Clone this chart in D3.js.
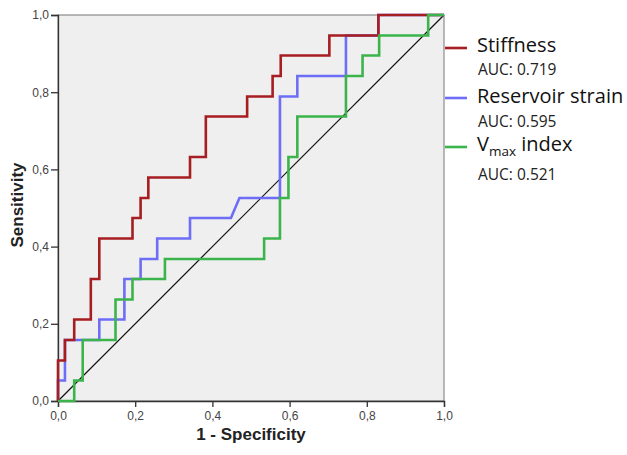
<!doctype html>
<html>
<head>
<meta charset="UTF-8">
<title>ROC curves</title>
<script src="https://cdn.jsdelivr.net/npm/d3@7"></script>
<style>
    body { margin: 0; background: #fff; }
    .tick text { font-family: "Liberation Sans", Arial, sans-serif; font-size: 12px; fill: #444; }
    .title { font-family: "Liberation Sans", Arial, sans-serif; font-size: 17px; font-weight: 700; fill: #222; }
    .leg-name { font-family: "Open Sans", Lato, sans-serif; font-size: 20px; fill: #111; }
    .leg-auc { font-family: "Open Sans", Lato, sans-serif; font-size: 15.5px; fill: #222; }
</style>
</head>
<body>
<script>
    // ROC vertices (tpr in steps of 1/19)
    var stiffFpr = [0, 0, 0.018, 0.018, 0.042, 0.042, 0.085, 0.085, 0.107, 0.107, 0.193, 0.193, 0.214, 0.214, 0.234, 0.234, 0.342, 0.342, 0.383, 0.383, 0.490, 0.490, 0.556, 0.556, 0.577, 0.577, 0.703, 0.703, 0.830, 0.830, 1];
    var stiffTpr = [0, 0.105, 0.105, 0.158, 0.158, 0.211, 0.211, 0.316, 0.316, 0.421, 0.421, 0.474, 0.474, 0.526, 0.526, 0.579, 0.579, 0.632, 0.632, 0.737, 0.737, 0.789, 0.789, 0.842, 0.842, 0.895, 0.895, 0.947, 0.947, 1, 1];

    var strainFpr = [0, 0, 0.018, 0.018, 0.107, 0.107, 0.172, 0.172, 0.214, 0.214, 0.257, 0.257, 0.342, 0.342, 0.448, 0.470, 0.575, 0.575, 0.620, 0.620, 0.746, 0.746, 0.830, 0.830, 1];
    var strainTpr = [0, 0.053, 0.053, 0.158, 0.158, 0.211, 0.211, 0.316, 0.316, 0.368, 0.368, 0.421, 0.421, 0.474, 0.474, 0.526, 0.526, 0.789, 0.789, 0.842, 0.842, 0.947, 0.947, 1, 1];

    var vmaxFpr = [0, 0.042, 0.042, 0.064, 0.064, 0.149, 0.149, 0.193, 0.193, 0.277, 0.277, 0.534, 0.534, 0.575, 0.575, 0.597, 0.597, 0.620, 0.620, 0.746, 0.746, 0.789, 0.789, 0.832, 0.832, 0.959, 0.959, 1];
    var vmaxTpr = [0, 0, 0.053, 0.053, 0.158, 0.158, 0.263, 0.263, 0.316, 0.316, 0.368, 0.368, 0.421, 0.421, 0.526, 0.526, 0.632, 0.632, 0.737, 0.737, 0.842, 0.842, 0.895, 0.895, 0.947, 0.947, 1, 1];

    var seriesNames = ["Stiffness", "Reservoir strain", "Vmax index"];
    var aucLabels = ["AUC: 0.719", "AUC: 0.595", "AUC: 0.521"];
    var colors = ["#a61d22", "#6d6df7", "#3bb44b"];
    var tickValues = [0, 0.2, 0.4, 0.6, 0.8, 1.0];

    var W = 627, H = 455;
    var plot = { left: 58, top: 15, size: 386 };

    var svg = d3.select("body").append("svg")
        .attr("width", W)
        .attr("height", H);

    var x = d3.scaleLinear().domain([0, 1]).range([plot.left, plot.left + plot.size]);
    var y = d3.scaleLinear().domain([0, 1]).range([plot.top + plot.size, plot.top]);

    // plot background + frame
    svg.append("rect")
        .attr("x", x(0)).attr("y", y(1))
        .attr("width", x(1) - x(0)).attr("height", y(0) - y(1))
        .style("fill", "#efefef")
        .style("stroke", "#777")
        .style("stroke-width", 1);

    var fmt = function (d) { return d3.format(".1f")(d).replace(".", ","); };

    svg.append("g")
        .attr("transform", "translate(" + x(0) + ",0)")
        .call(d3.axisLeft(y).tickValues(tickValues).tickFormat(fmt).tickSize(7).tickPadding(2));
    svg.append("g")
        .attr("transform", "translate(0," + y(0) + ")")
        .call(d3.axisBottom(x).tickValues(tickValues).tickFormat(fmt).tickSize(6).tickPadding(4));
    svg.selectAll(".domain").style("stroke", "#333").style("stroke-width", 1.3);
    svg.selectAll(".tick line").style("stroke", "#333").style("stroke-width", 1.3);

    // reference diagonal
    svg.append("line")
        .attr("x1", x(0)).attr("y1", y(0))
        .attr("x2", x(1)).attr("y2", y(1))
        .style("stroke", "#111")
        .style("stroke-width", 1.2);

    var line = d3.line()
        .x(function (d) { return x(d[0]); })
        .y(function (d) { return y(d[1]); });

    var series = [
        d3.zip(stiffFpr, stiffTpr),
        d3.zip(strainFpr, strainTpr),
        d3.zip(vmaxFpr, vmaxTpr)
    ];

    // blue first, then red, green on top
    var drawOrder = [1, 0, 2];
    svg.selectAll(".roc")
        .data(drawOrder)
        .enter()
        .append("path")
        .attr("class", "roc")
        .attr("d", function (i) { return line(series[i]); })
        .style("fill", "none")
        .style("stroke", function (i) { return colors[i]; })
        .style("stroke-width", 2.6);

    // axis titles
    svg.append("text")
        .attr("class", "title")
        .attr("x", (x(0) + x(1)) / 2)
        .attr("y", 440)
        .style("text-anchor", "middle")
        .text("1 - Specificity");

    svg.append("text")
        .attr("class", "title")
        .attr("transform", "translate(23,205) rotate(-90)")
        .style("text-anchor", "middle")
        .text("Sensitivity");

    // legend
    var legLineY = [48, 98, 147],
        legNameY = [52, 103, 151],
        legAucY = [75, 127, 180];

    var legend = svg.selectAll(".leg")
        .data(seriesNames)
        .enter()
        .append("g")
        .attr("class", "leg");

    legend.append("line")
        .attr("x1", x(1) + 1).attr("x2", 467)
        .attr("y1", function (d, i) { return legLineY[i]; })
        .attr("y2", function (d, i) { return legLineY[i]; })
        .style("stroke", function (d, i) { return colors[i]; })
        .style("stroke-width", 2.6);

    legend.append("text")
        .attr("class", "leg-name")
        .attr("x", 477)
        .attr("y", function (d, i) { return legNameY[i]; })
        .each(function (d) {
            var t = d3.select(this);
            if (d === "Vmax index") {
                t.append("tspan").text("V");
                t.append("tspan").attr("dy", 5).style("font-size", "13.5px").text("max");
                t.append("tspan").attr("dy", -5).text(" index");
            } else {
                t.text(d);
            }
        });

    legend.append("text")
        .attr("class", "leg-auc")
        .attr("x", 478)
        .attr("y", function (d, i) { return legAucY[i]; })
        .text(function (d, i) { return aucLabels[i]; });
</script>
</body>
</html>
